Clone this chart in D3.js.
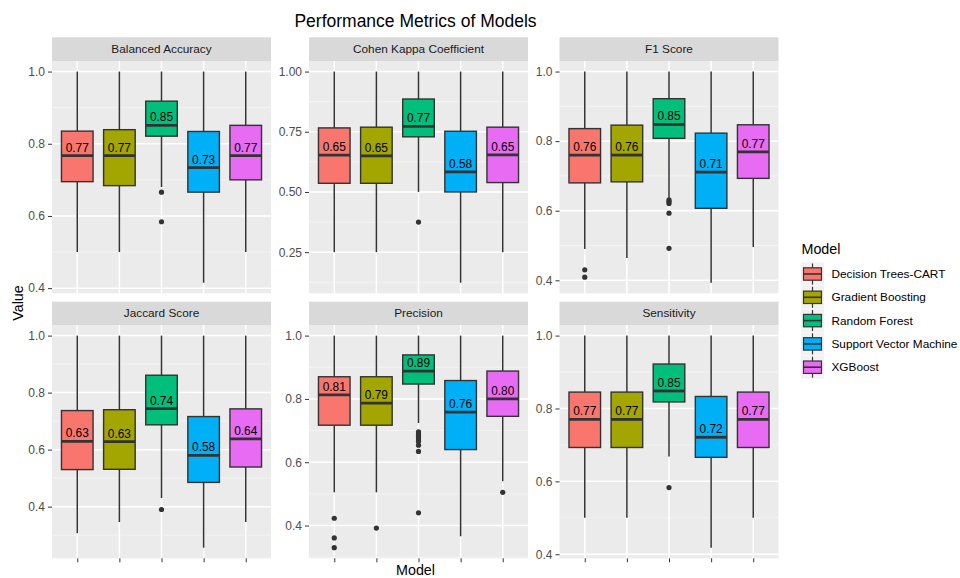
<!DOCTYPE html>
<html>
<head>
<meta charset="utf-8">
<script src="https://cdn.jsdelivr.net/npm/d3@7/dist/d3.min.js"></script>
<style>
  html, body { margin: 0; padding: 0; background: #ffffff; }
  svg { display: block; font-family: "Liberation Sans", Arial, sans-serif; }
</style>
</head>
<body>
<svg id="chart" width="960" height="578"></svg>
<script>
// Models and their fill colours
const models = ["Decision Trees-CART", "Gradient Boosting", "Random Forest", "Support Vector Machine", "XGBoost"];
const modelColors = ["#F8766D", "#A3A500", "#00BF7D", "#00B0F6", "#E76BF3"];

// Facet titles, in wrap order
const metrics = ["Balanced Accuracy", "Cohen Kappa Coefficient", "F1 Score", "Jaccard Score", "Precision", "Sensitivity"];

// Box statistics per model: [lower whisker, Q1, median, Q3, upper whisker]
const balancedAccuracy = [
  [0.500, 0.695, 0.767, 0.835, 1.0],
  [0.500, 0.684, 0.767, 0.839, 1.0],
  [0.680, 0.821, 0.851, 0.918, 1.0],
  [0.415, 0.666, 0.734, 0.834, 1.0],
  [0.500, 0.700, 0.767, 0.851, 1.0]
];
const cohenKappa = [
  [0.250, 0.536, 0.653, 0.766, 1.0],
  [0.250, 0.536, 0.650, 0.769, 1.0],
  [0.500, 0.729, 0.772, 0.886, 1.0],
  [0.123, 0.500, 0.583, 0.752, 1.0],
  [0.250, 0.539, 0.654, 0.769, 1.0]
];
const f1Score = [
  [0.490, 0.680, 0.760, 0.836, 1.0],
  [0.464, 0.683, 0.760, 0.846, 1.0],
  [0.637, 0.808, 0.848, 0.922, 1.0],
  [0.393, 0.607, 0.711, 0.823, 1.0],
  [0.496, 0.693, 0.769, 0.847, 1.0]
];
const jaccardScore = [
  [0.307, 0.530, 0.629, 0.737, 1.0],
  [0.346, 0.531, 0.628, 0.740, 1.0],
  [0.430, 0.687, 0.744, 0.861, 1.0],
  [0.256, 0.485, 0.580, 0.716, 1.0],
  [0.346, 0.539, 0.638, 0.743, 1.0]
];
const precision = [
  [0.505, 0.717, 0.813, 0.870, 1.0],
  [0.505, 0.717, 0.787, 0.870, 1.0],
  [0.724, 0.847, 0.888, 0.939, 1.0],
  [0.366, 0.640, 0.758, 0.858, 1.0],
  [0.540, 0.745, 0.800, 0.888, 1.0]
];
const sensitivity = [
  [0.500, 0.693, 0.770, 0.845, 1.0],
  [0.500, 0.693, 0.770, 0.845, 1.0],
  [0.668, 0.818, 0.848, 0.922, 1.0],
  [0.418, 0.666, 0.721, 0.833, 1.0],
  [0.500, 0.693, 0.770, 0.845, 1.0]
];

// Outlying points per model
const balancedAccuracyOut = [[], [], [0.666, 0.584], [], []];
const cohenKappaOut = [[], [], [0.375], [], []];
const f1ScoreOut = [[0.430, 0.409], [], [0.631, 0.626, 0.621, 0.593, 0.492], [], []];
const jaccardScoreOut = [[], [], [0.390], [], []];
const precisionOut = [[0.423, 0.361, 0.330], [0.392], [0.696, 0.689, 0.682, 0.674, 0.666, 0.654, 0.634, 0.440], [], [0.505]];
const sensitivityOut = [[], [], [0.583], [], []];

// Y-axis breaks
const ticksTenths = [0.4, 0.6, 0.8, 1.0];
const ticksQuarters = [0.25, 0.50, 0.75, 1.00];

const panelStats = [balancedAccuracy, cohenKappa, f1Score, jaccardScore, precision, sensitivity];
const panelOutliers = [balancedAccuracyOut, cohenKappaOut, f1ScoreOut, jaccardScoreOut, precisionOut, sensitivityOut];
const panelTicks = [ticksTenths, ticksQuarters, ticksTenths, ticksTenths, ticksTenths, ticksTenths];
const panelFormats = [".1f", ".2f", ".1f", ".1f", ".1f", ".1f"];

// ---- layout ----
const svg = d3.select("#chart");
const colLeft = [52, 309, 559.5];
const panelW = 219;
const rows = [
  { stripTop: 37.3, top: 61, bottom: 293.3 },
  { stripTop: 301.7, top: 325, bottom: 558.3 }
];
const GREY20 = "#333333";

svg.append("text")
  .attr("x", 415.5).attr("y", 26.5)
  .attr("text-anchor", "middle")
  .attr("font-size", 17.5).attr("fill", "#000")
  .text("Performance Metrics of Models");

metrics.forEach((metric, i) => {
  const row = rows[Math.floor(i / 3)];
  const x0 = colLeft[i % 3];
  const stats = panelStats[i];
  const outs = panelOutliers[i];

  // discrete x positions with 0.6 category widths of padding at each end
  const x = d3.scalePoint().domain(models).range([x0, x0 + panelW]).padding(0.6);
  const step = x.step();

  // continuous y, expanded by 5% of the data range
  const allVals = stats.flat().concat(outs.flat());
  const lo = d3.min(allVals), hi = d3.max(allVals);
  const pad = (hi - lo) * 0.05;
  const y = d3.scaleLinear().domain([lo - pad, hi + pad]).range([row.bottom, row.top]);

  const g = svg.append("g");

  // strip
  g.append("rect").attr("x", x0).attr("y", row.stripTop)
    .attr("width", panelW).attr("height", row.top - row.stripTop).attr("fill", "#D9D9D9");
  g.append("text").attr("x", x0 + panelW / 2).attr("y", (row.stripTop + row.top) / 2)
    .attr("dy", "0.35em").attr("text-anchor", "middle")
    .attr("font-size", 11.8).attr("fill", "#1A1A1A").text(metric);

  // panel background
  g.append("rect").attr("x", x0).attr("y", row.top)
    .attr("width", panelW).attr("height", row.bottom - row.top).attr("fill", "#EBEBEB");

  // minor grid halfway between breaks
  const major = panelTicks[i];
  const stepT = major[1] - major[0];
  const [d0, d1] = y.domain();
  const minor = [];
  for (let k = -1; k < major.length; k++) {
    const v = major[0] + stepT * (k + 0.5);
    if (v >= d0 && v <= d1) minor.push(v);
  }
  g.selectAll(".minor").data(minor).join("line")
    .attr("x1", x0).attr("x2", x0 + panelW)
    .attr("y1", d => y(d)).attr("y2", d => y(d))
    .attr("stroke", "#F7F7F7").attr("stroke-width", 0.75);

  // major grid
  g.selectAll(".hmaj").data(major).join("line")
    .attr("x1", x0).attr("x2", x0 + panelW)
    .attr("y1", d => y(d)).attr("y2", d => y(d))
    .attr("stroke", "#FFFFFF").attr("stroke-width", 1.5);
  g.selectAll(".vmaj").data(models).join("line")
    .attr("x1", d => x(d)).attr("x2", d => x(d))
    .attr("y1", row.top).attr("y2", row.bottom)
    .attr("stroke", "#FFFFFF").attr("stroke-width", 1.5);

  // y axis
  const yAxis = d3.axisLeft(y).tickValues(major).tickFormat(d3.format(panelFormats[i]))
    .tickSize(4).tickPadding(3);
  const ya = svg.append("g").attr("transform", `translate(${x0},0)`).call(yAxis);
  ya.select(".domain").remove();
  ya.selectAll(".tick line").attr("stroke", GREY20).attr("stroke-width", 1);
  ya.selectAll(".tick text").attr("fill", "#4D4D4D").attr("font-size", 12)
    .attr("font-family", "Liberation Sans, Arial, sans-serif");

  // x axis ticks (no labels) on the bottom row only
  if (Math.floor(i / 3) === 1) {
    const xAxis = d3.axisBottom(x).tickSize(4).tickFormat("");
    const xa = svg.append("g").attr("transform", `translate(0,${row.bottom})`).call(xAxis);
    xa.select(".domain").remove();
    xa.selectAll(".tick line").attr("stroke", GREY20).attr("stroke-width", 1);
  }

  const boxW = step * 0.75;
  const boxes = models.map((m, j) => ({ m, j, s: stats[j], out: outs[j] }));

  const bg = g.selectAll(".box").data(boxes).join("g");
  // whiskers
  bg.append("line")
    .attr("x1", d => x(d.m)).attr("x2", d => x(d.m))
    .attr("y1", d => y(d.s[3])).attr("y2", d => y(d.s[4]))
    .attr("stroke", GREY20).attr("stroke-width", 1.5);
  bg.append("line")
    .attr("x1", d => x(d.m)).attr("x2", d => x(d.m))
    .attr("y1", d => y(d.s[0])).attr("y2", d => y(d.s[1]))
    .attr("stroke", GREY20).attr("stroke-width", 1.5);
  // box
  bg.append("rect")
    .attr("x", d => x(d.m) - boxW / 2).attr("width", boxW)
    .attr("y", d => y(d.s[3])).attr("height", d => y(d.s[1]) - y(d.s[3]))
    .attr("fill", d => modelColors[d.j]).attr("stroke", GREY20).attr("stroke-width", 1.4);
  // median
  bg.append("line")
    .attr("x1", d => x(d.m) - boxW / 2).attr("x2", d => x(d.m) + boxW / 2)
    .attr("y1", d => y(d.s[2])).attr("y2", d => y(d.s[2]))
    .attr("stroke", GREY20).attr("stroke-width", 2.8);
  // outliers
  bg.selectAll("circle").data(d => d.out.map(v => ({ m: d.m, v }))).join("circle")
    .attr("cx", d => x(d.m)).attr("cy", d => y(d.v)).attr("r", 2.6)
    .attr("fill", GREY20);
  // median labels
  bg.append("text")
    .attr("x", d => x(d.m)).attr("y", d => y(d.s[2]) - 4)
    .attr("text-anchor", "middle").attr("font-size", 11.9).attr("fill", "#000")
    .text(d => d3.format(".2f")(d.s[2]));
});

// axis titles
svg.append("text")
  .attr("x", 415.5).attr("y", 575)
  .attr("text-anchor", "middle").attr("font-size", 14.3).attr("fill", "#000")
  .text("Model");
svg.append("text")
  .attr("transform", "translate(22.5,303) rotate(-90)")
  .attr("text-anchor", "middle").attr("font-size", 14.3).attr("fill", "#000")
  .text("Value");

// legend
const leg = svg.append("g");
leg.append("text").attr("x", 801.5).attr("y", 253.5)
  .attr("font-size", 14.3).attr("fill", "#000").text("Model");
const keyY0 = 262.5, keyStep = 23.3, keySize = 23;
models.forEach((m, j) => {
  const ky = keyY0 + j * keyStep;
  const kx = 801;
  leg.append("rect").attr("x", kx).attr("y", ky).attr("width", keySize).attr("height", keySize)
    .attr("fill", "#F2F2F2");
  const mid = ky + keySize / 2;
  leg.append("line").attr("x1", kx + keySize / 2).attr("x2", kx + keySize / 2)
    .attr("y1", ky + 1).attr("y2", ky + keySize - 1)
    .attr("stroke", GREY20).attr("stroke-width", 1.2);
  leg.append("rect").attr("x", kx + 2.5).attr("y", mid - 6.2).attr("width", keySize - 5).attr("height", 12.4)
    .attr("fill", modelColors[j]).attr("stroke", GREY20).attr("stroke-width", 1.2);
  leg.append("line").attr("x1", kx + 2.5).attr("x2", kx + keySize - 2.5)
    .attr("y1", mid).attr("y2", mid).attr("stroke", GREY20).attr("stroke-width", 1.6);
  leg.append("text").attr("x", 831.5).attr("y", mid).attr("dy", "0.35em")
    .attr("font-size", 11.8).attr("fill", "#000").text(m);
});
</script>
</body>
</html>
